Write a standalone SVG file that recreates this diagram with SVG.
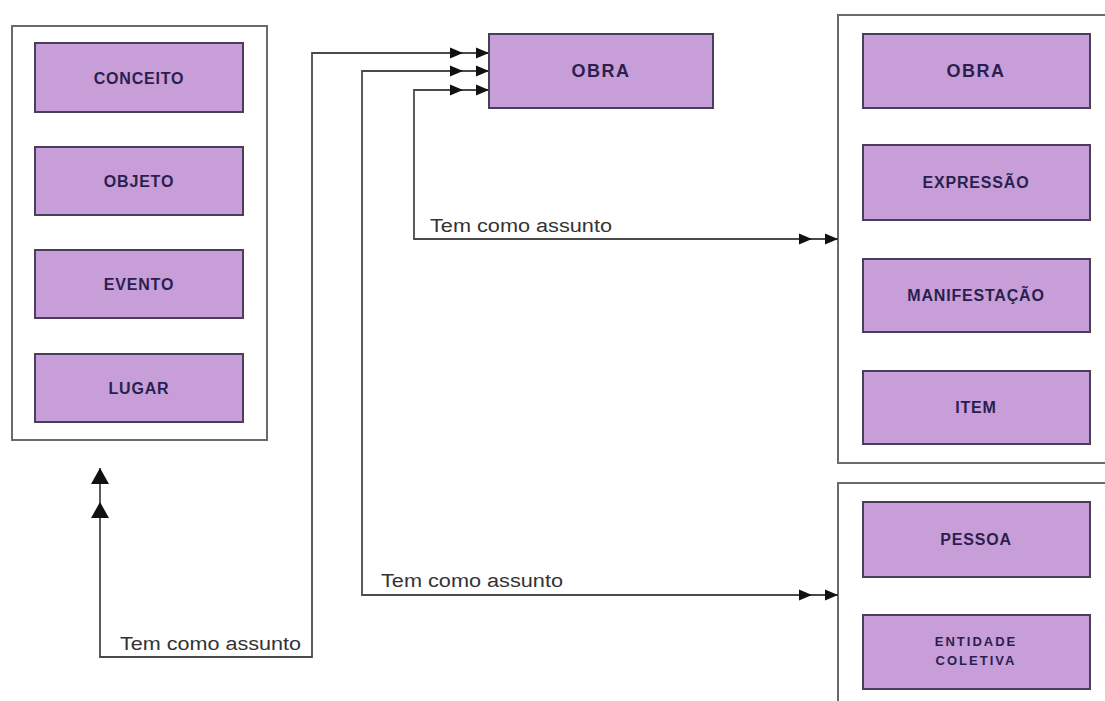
<svg xmlns="http://www.w3.org/2000/svg" width="1105" height="701" viewBox="0 0 1105 701">
  <style>
    .frame { fill: #ffffff; stroke: #6a6a6a; stroke-width: 2; }
    .ent { fill: #c79ed8; stroke: #4b3d5c; stroke-width: 2; }
    .lbl { font-family: "Liberation Sans", Arial, sans-serif; font-weight: bold; font-size: 16px; fill: #2b1f4f; text-anchor: middle; letter-spacing: 0.8px; }
    .lbl-big { font-size: 18px; letter-spacing: 1.5px; }
    .lbl-sm { font-size: 13px; letter-spacing: 2px; }
    .wire { fill: none; stroke: #4a4a4a; stroke-width: 1.8; }
    .rel { font-family: "Liberation Sans", Arial, sans-serif; font-size: 18px; fill: #333333; }
  </style>
  <defs>
    <!-- double arrowhead for horizontal connector ends -->
    <marker id="dbl" markerUnits="userSpaceOnUse" viewBox="0 0 40 12" markerWidth="40" markerHeight="12" refX="39" refY="6" orient="auto-start-reverse">
      <path d="M26,0.5 L39,6 L26,11.5 Z M0,0.5 L13,6 L0,11.5 Z" fill="#111111"/>
    </marker>
    <!-- larger double arrowhead for the vertical connector end -->
    <marker id="dbl-lg" markerUnits="userSpaceOnUse" viewBox="0 0 52 20" markerWidth="52" markerHeight="20" refX="50" refY="10" orient="auto-start-reverse">
      <path d="M34,1 L50,10 L34,19 Z M0,1 L16,10 L0,19 Z" fill="#111111"/>
    </marker>
  </defs>

  <rect width="1105" height="701" fill="#ffffff"/>

  <!-- group 3: concept / object / event / place -->
  <g id="grupo3">
    <rect class="frame" x="12" y="26" width="255" height="414"/>
    <g id="conceito">
      <rect class="ent" x="35" y="43" width="208" height="69"/>
      <text class="lbl" x="139" y="84">CONCEITO</text>
    </g>
    <g id="objeto">
      <rect class="ent" x="35" y="147" width="208" height="68"/>
      <text class="lbl" x="139" y="187">OBJETO</text>
    </g>
    <g id="evento">
      <rect class="ent" x="35" y="250" width="208" height="68"/>
      <text class="lbl" x="139" y="290">EVENTO</text>
    </g>
    <g id="lugar">
      <rect class="ent" x="35" y="354" width="208" height="68"/>
      <text class="lbl" x="139" y="394">LUGAR</text>
    </g>
  </g>

  <!-- central work entity -->
  <g id="obra-central">
    <rect class="ent" x="489" y="34" width="224" height="74"/>
    <text class="lbl lbl-big" x="601" y="77">OBRA</text>
  </g>

  <!-- group 1: work / expression / manifestation / item -->
  <g id="grupo1">
    <rect class="frame" x="838" y="15" width="300" height="448"/>
    <g id="obra">
      <rect class="ent" x="863" y="34" width="227" height="74"/>
      <text class="lbl lbl-big" x="976" y="77">OBRA</text>
    </g>
    <g id="expressao">
      <rect class="ent" x="863" y="145" width="227" height="75"/>
      <text class="lbl" x="976" y="188">EXPRESSÃO</text>
    </g>
    <g id="manifestacao">
      <rect class="ent" x="863" y="259" width="227" height="73"/>
      <text class="lbl" x="976" y="301">MANIFESTAÇÃO</text>
    </g>
    <g id="item">
      <rect class="ent" x="863" y="371" width="227" height="73"/>
      <text class="lbl" x="976" y="413">ITEM</text>
    </g>
  </g>

  <!-- group 2: person / corporate body -->
  <g id="grupo2">
    <rect class="frame" x="838" y="483" width="300" height="260"/>
    <g id="pessoa">
      <rect class="ent" x="863" y="502" width="227" height="75"/>
      <text class="lbl" x="976" y="545">PESSOA</text>
    </g>
    <g id="entidade-coletiva">
      <rect class="ent" x="863" y="615" width="227" height="74"/>
      <text class="lbl lbl-sm" x="976" y="646">ENTIDADE</text>
      <text class="lbl lbl-sm" x="976" y="665">COLETIVA</text>
    </g>
  </g>

  <!-- subject relationships -->
  <g id="conectores">
    <path class="wire" d="M100,468 L100,657 L312,657 L312,53 L489,53" marker-start="url(#dbl-lg)" marker-end="url(#dbl)"/>
    <path class="wire" d="M489,71 L362,71 L362,595 L838,595" marker-start="url(#dbl)" marker-end="url(#dbl)"/>
    <path class="wire" d="M489,90 L414,90 L414,239 L838,239" marker-start="url(#dbl)" marker-end="url(#dbl)"/>
    <text class="rel" x="120" y="650" textLength="181" lengthAdjust="spacingAndGlyphs">Tem como assunto</text>
    <text class="rel" x="381" y="587" textLength="182" lengthAdjust="spacingAndGlyphs">Tem como assunto</text>
    <text class="rel" x="430" y="232" textLength="182" lengthAdjust="spacingAndGlyphs">Tem como assunto</text>
  </g>
</svg>
